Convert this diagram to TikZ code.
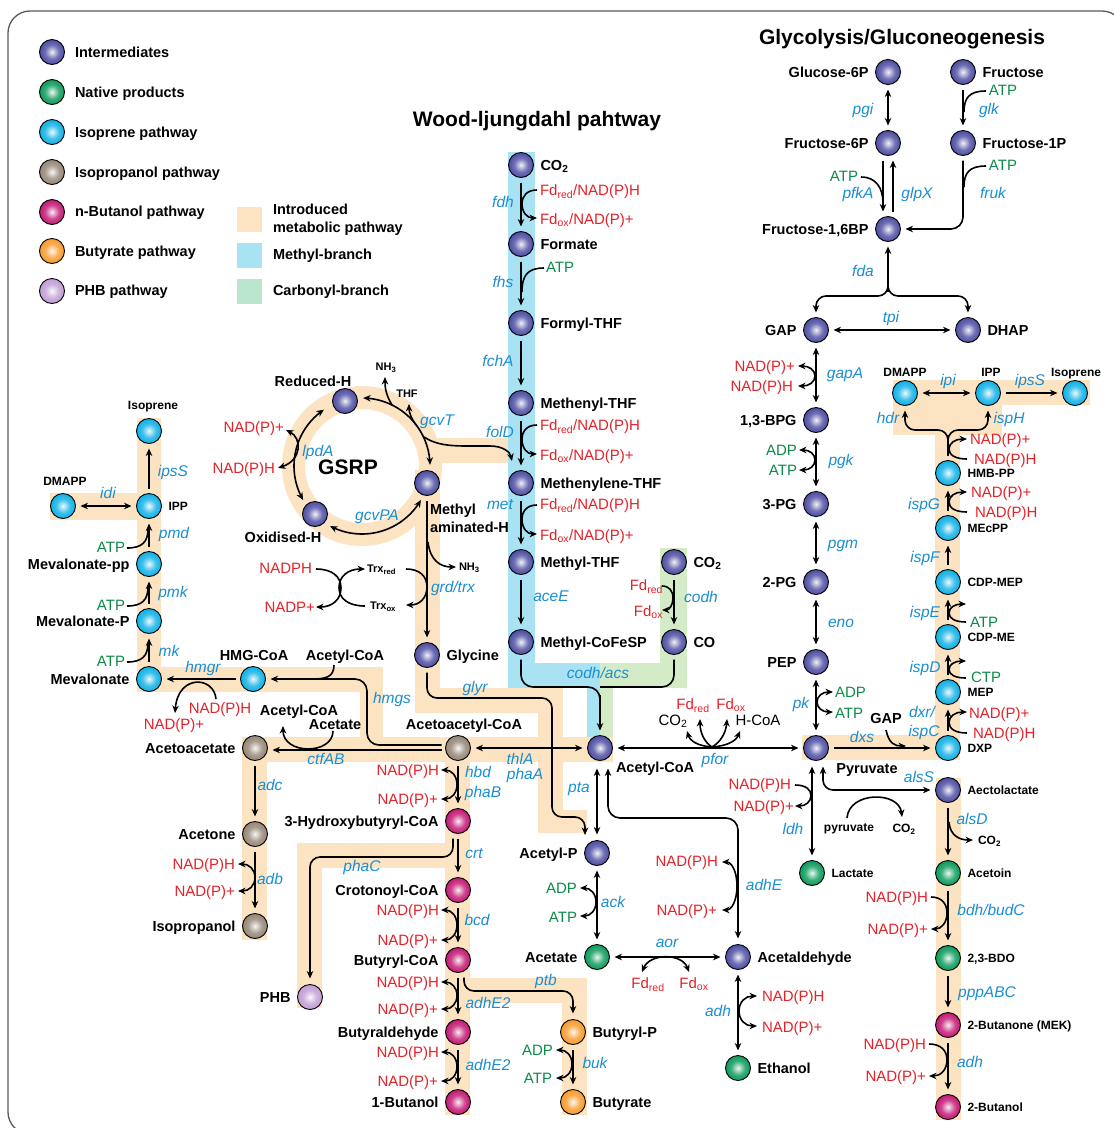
\documentclass[tikz,border=0pt]{standalone}
\usepackage{fontspec}
\setmainfont{Liberation Sans}
\usetikzlibrary{arrows.meta}
\definecolor{cB}{HTML}{5050A4}
\definecolor{cG}{HTML}{0F9C5E}
\definecolor{cC}{HTML}{12B2E6}
\definecolor{cP}{HTML}{978878}
\definecolor{cM}{HTML}{C41C76}
\definecolor{cO}{HTML}{F89C30}
\definecolor{cL}{HTML}{C29FD6}
\definecolor{bandO}{HTML}{FCE3C2}
\definecolor{bandB}{HTML}{A9E3F3}
\definecolor{bandG}{HTML}{D3EBC7}
\definecolor{legG}{HTML}{B9E6CC}
\definecolor{tred}{HTML}{E42229}
\definecolor{tgreen}{HTML}{0C8B48}
\definecolor{tblue}{HTML}{1A8ED2}
\definecolor{frm}{HTML}{5A5A5A}
\newcommand\mksph[2]{\pgfdeclareradialshading{#1}{\pgfpoint{0bp}{0bp}}{color(0bp)=(#2!8!white); color(5bp)=(#2!35!white); color(14bp)=(#2!82!white); color(24bp)=(#2); color(43bp)=(#2!85!black); color(50bp)=(#2!60!black)}}
\mksph{sphB}{cB}\mksph{sphG}{cG}\mksph{sphC}{cC}\mksph{sphP}{cP}\mksph{sphM}{cM}\mksph{sphO}{cO}\mksph{sphL}{cL}
\newcommand\sbs[1]{\textsubscript{#1}}
\newcommand\cof[5][ln]{\draw[#1] (#3,#4) .. controls ({#2+0.35*(#3-#2)},#4) and (#2,{#4+0.2*(#5-#4)}) .. (#2,{(#4+#5)/2}) .. controls (#2,{#5-0.2*(#5-#4)}) and ({#2+0.35*(#3-#2)},#5) .. (#3,#5);}
\begin{document}
\begin{tikzpicture}[x=1pt,y=-1pt,
  every node/.style={inner sep=0pt, outer sep=0pt},
  lab/.style={font=\bfseries\fontsize{14.5}{17}\selectfont, text height=10.4pt, text depth=0pt},
  slab/.style={font=\bfseries\fontsize{12}{14}\selectfont, text height=8.6pt, text depth=0pt},
  tlab/.style={font=\bfseries\fontsize{11}{13}\selectfont, text height=7.9pt, text depth=0pt},
  ttl/.style={font=\bfseries\fontsize{21}{25}\selectfont, text height=15.1pt, text depth=0pt},
  enz/.style={font=\itshape\fontsize{15.5}{18}\selectfont, text=tblue, text height=11.1pt, text depth=0pt},
  cr/.style={font=\fontsize{15}{18}\selectfont, text=tred, text height=10.7pt, text depth=0pt},
  cg/.style={cr, text=tgreen},
  ck/.style={cr, text=black},
  ln/.style={line width=1.6pt},
  arr/.style={ln, -{Stealth[length=7.5pt,width=6.5pt]}},
  rarr/.style={ln, {Stealth[length=7.5pt,width=6.5pt]}-},
  darr/.style={ln, {Stealth[length=7.5pt,width=6.5pt]}-{Stealth[length=7.5pt,width=6.5pt]}},
  conn/.style={shorten >=5pt, shorten <=5pt},
  ball/.style={circle, draw=black, line width=0.9pt, minimum size=25pt, inner sep=0pt, shade},
  ib/.style={ball, shading=sphB}, gb/.style={ball, shading=sphG}, cb/.style={ball, shading=sphC},
  pb/.style={ball, shading=sphP}, mb/.style={ball, shading=sphM}, ob/.style={ball, shading=sphO},
  lb/.style={ball, shading=sphL},
  label distance=7pt]
\useasboundingbox (0,0) rectangle (1114,1128);
\fill[white] (0,0) rectangle (1114,1128);
% ---------- bands ----------
\fill[bandB] (508,152) rectangle (535,688);
\fill[bandB] (508,663) rectangle (600,688);
\fill[bandB] (587,663) rectangle (600,737);
\fill[bandG] (660,548) rectangle (687,688);
\fill[bandG] (600,663) rectangle (687,688);
\fill[bandG] (600,663) rectangle (613,737);
\fill[bandO] (137,418) rectangle (161,692);
\fill[bandO] (50,493) rectangle (137,520);
\fill[bandO] (137,667) rectangle (383,692);
\fill[bandO] (360,667) rectangle (383,762);
\fill[bandO] (242,737) rectangle (613,762);
\fill[bandO] (242,737) rectangle (267,940);
\fill[bandO, even odd rule] (362,466) circle[radius=80pt] (362,466) circle[radius=57pt];
\fill[bandO] (425,438) rectangle (508,463);
\fill[bandO] (415,470) rectangle (440,713);
\fill[bandO] (415,688) rectangle (563,713);
\fill[bandO] (538,688) rectangle (563,833);
\fill[bandO] (538,810) rectangle (587,833);
\fill[bandO] (445,737) rectangle (470,1115);
\fill[bandO] (297,843) rectangle (470,868);
\fill[bandO] (297,843) rectangle (322,1008);
\fill[bandO] (445,978) rectangle (587,1003);
\fill[bandO] (562,978) rectangle (587,1115);
\fill[bandO] (802,735) rectangle (960,760);
\fill[bandO] (935,380) rectangle (960,760);
\fill[bandO] (893,380) rectangle (1002,435);
\fill[bandO] (893,380) rectangle (1090,405);
\fill[bandO] (936,778) rectangle (961,1120);
% frame
\draw[frm, line width=1.3pt, rounded corners=22pt] (8,11) rectangle (1124,1134);
% ---------- legend ----------
\node[ib] (lg1) at (52,52) {};
\node[gb] (lg2) at (52,92) {};
\node[cb] (lg3) at (52,132) {};
\node[pb] (lg4) at (52,172) {};
\node[mb] (lg5) at (52,212) {};
\node[ob] (lg6) at (52,251) {};
\node[lb] (lg7) at (52,291) {};
\node[lab,anchor=west] (lt1) at (75,52) {Intermediates};
\node[lab,anchor=west] (lt2) at (75,92) {Native products};
\node[lab,anchor=west] (lt3) at (75,132) {Isoprene pathway};
\node[lab,anchor=west] (lt4) at (75,172) {Isopropanol pathway};
\node[lab,anchor=west] (lt5) at (75,211) {n-Butanol pathway};
\node[lab,anchor=west] (lt6) at (75,251) {Butyrate pathway};
\node[lab,anchor=west] (lt7) at (75,290) {PHB pathway};
\fill[bandO] (237,207) rectangle (262,232);
\fill[bandB] (237,243) rectangle (262,268);
\fill[legG] (237,279) rectangle (262,304);
\node[lab,anchor=west] (lt8) at (273,209) {Introduced};
\node[lab,anchor=west] (lt9) at (273,227) {metabolic pathway};
\node[lab,anchor=west] (lt10) at (273,254) {Methyl-branch};
\node[lab,anchor=west] (lt11) at (273,290) {Carbonyl-branch};
\node[ttl] (tWL) at (537,119) {Wood-ljungdahl pahtway};
\node[ttl] (tGly) at (902,37) {Glycolysis/Gluconeogenesis};
% ---------- balls ----------
\node[ib, label={[lab]right:CO\sbs{2}}] (co2a) at (521,165) {};
\node[ib, label={[lab]right:Formate}] (formate) at (521,244) {};
\node[ib, label={[lab]right:Formyl-THF}] (formyl) at (521,323) {};
\node[ib, label={[lab]right:Methenyl-THF}] (methenyl) at (521,403) {};
\node[ib, label={[lab]right:Methenylene-THF}] (methylene) at (521,483) {};
\node[ib, label={[lab]right:Methyl-THF}] (methylthf) at (521,562) {};
\node[ib, label={[lab]right:Methyl-CoFeSP}] (cofesp) at (521,642) {};
\node[ib, label={[lab]right:CO\sbs{2}}] (co2b) at (674,562) {};
\node[ib, label={[lab]right:CO}] (co) at (674,642) {};
\node[ib] (accoa) at (600,748) {};
\node[ib] (redh) at (345,401) {};
\node[ib] (mah) at (427,483) {};
\node[ib] (oxh) at (315,514) {};
\node[ib, label={[lab]right:Glycine}] (gly) at (427,655) {};
\node[cb] (iso1) at (149,431) {};
\node[cb, label={[slab]right:IPP}] (ipp1) at (149,506) {};
\node[cb] (dmapp1) at (63,506) {};
\node[cb, label={[lab]left:Mevalonate-pp}] (mevpp) at (149,564) {};
\node[cb, label={[lab]left:Mevalonate-P}] (mevp) at (149,621) {};
\node[cb, label={[lab]left:Mevalonate}] (mev) at (149,679) {};
\node[cb] (hmg) at (253,679) {};
\node[pb] (aacoa) at (458,748) {};
\node[pb, label={[lab]left:Acetoacetate}] (aac) at (255,748) {};
\node[pb, label={[lab]left:Acetone}] (acetone) at (255,834) {};
\node[pb, label={[lab]left:Isopropanol}] (ipa) at (255,926) {};
\node[mb, label={[lab]left:3-Hydroxybutyryl-CoA}] (hbcoa) at (458,821) {};
\node[mb, label={[lab]left:Crotonoyl-CoA}] (crcoa) at (458,890) {};
\node[mb, label={[lab]left:Butyryl-CoA}] (bucoa) at (458,960) {};
\node[mb, label={[lab]left:Butyraldehyde}] (bual) at (458,1032) {};
\node[mb, label={[lab]left:1-Butanol}] (buol) at (458,1102) {};
\node[lb, label={[lab]left:PHB}] (phb) at (310,997) {};
\node[ob, label={[lab]right:Butyryl-P}] (bup) at (573,1032) {};
\node[ob, label={[lab]right:Butyrate}] (but) at (573,1102) {};
\node[ib, label={[lab]left:Acetyl-P}] (acp) at (597,853) {};
\node[gb, label={[lab]left:Acetate}] (acet) at (597,957) {};
\node[ib, label={[lab]right:Acetaldehyde}] (acald) at (738,957) {};
\node[gb, label={[lab]right:Ethanol}] (etoh) at (738,1068) {};
\node[ib, label={[lab]left:Glucose-6P}] (g6p) at (888,72) {};
\node[ib, label={[lab]right:Fructose}] (fru) at (963,72) {};
\node[ib, label={[lab]left:Fructose-6P}] (f6p) at (888,143) {};
\node[ib, label={[lab]right:Fructose-1P}] (f1p) at (963,143) {};
\node[ib, label={[lab]left:{Fructose-1,6BP}}] (fbp) at (888,229) {};
\node[ib, label={[lab]left:GAP}] (gap) at (816,330) {};
\node[ib, label={[lab]right:DHAP}] (dhap) at (968,330) {};
\node[ib, label={[lab]left:{1,3-BPG}}] (bpg) at (816,420) {};
\node[ib, label={[lab]left:3-PG}] (pg3) at (816,504) {};
\node[ib, label={[lab]left:2-PG}] (pg2) at (816,582) {};
\node[ib, label={[lab]left:PEP}] (pep) at (816,662) {};
\node[ib] (pyr) at (816,748) {};
\node[gb, label distance=10pt, label={[slab]right:Lactate}] (lac) at (812,873) {};
\node[cb, label={[slab]right:DXP}] (dxp) at (948,748) {};
\node[cb, label={[slab]right:MEP}] (mep) at (948,692) {};
\node[cb, label={[slab]right:CDP-ME}] (cdpme) at (948,637) {};
\node[cb, label={[slab]right:CDP-MEP}] (cdpmep) at (948,582) {};
\node[cb, label={[slab]right:MEcPP}] (mecpp) at (948,528) {};
\node[cb, label={[slab]right:HMB-PP}] (hmbpp) at (948,473) {};
\node[cb] (dmapp2) at (905,393) {};
\node[cb] (ipp2) at (988,393) {};
\node[cb] (iso2) at (1075,393) {};
\node[ib, label={[slab]right:Aectolactate}] (alac) at (948,790) {};
\node[gb, label={[slab]right:Acetoin}] (acetoin) at (948,873) {};
\node[gb, label={[slab]right:{2,3-BDO}}] (bdo) at (948,958) {};
\node[mb, label={[slab]right:2-Butanone (MEK)}] (mek) at (948,1025) {};
\node[mb, label={[slab]right:2-Butanol}] (buol2) at (948,1107) {};
% ---------- other black labels ----------
\node[lab,anchor=west] (taccoa) at (616,767) {Acetyl-CoA};
\node[lab] (tredh) at (313,381) {Reduced-H};
\node[lab] (toxh) at (283,537) {Oxidised-H};
\node[lab,anchor=west] (tmah1) at (430,509) {Methyl};
\node[lab,anchor=west] (tmah2) at (430,527) {aminated-H};
\node[font=\bfseries\fontsize{21}{24}\selectfont, text height=15pt, text depth=0pt] (gsrp) at (348,467) {GSRP};
\node[tlab] (nh3a) at (386,367) {NH\sbs{3}};
\node[tlab] (thf) at (407,394) {THF};
\node[tlab,anchor=west] (nh3b) at (459,567) {NH\sbs{3}};
\node[tlab,anchor=west] (trxr) at (367,569) {Trx\sbs{red}};
\node[tlab,anchor=west] (trxo) at (370,606) {Trx\sbs{ox}};
\node[slab] (tiso1) at (153,405) {Isoprene};
\node[slab] (tdm1) at (65,481) {DMAPP};
\node[lab] (thmg) at (254,655) {HMG-CoA};
\node[lab] (tac1) at (345,655) {Acetyl-CoA};
\node[lab] (tac2) at (299,710) {Acetyl-CoA};
\node[lab] (tace) at (335,724) {Acetate};
\node[lab] (taacoa) at (464,724) {Acetoacetyl-CoA};
\node[lab] (tpyr) at (867,768) {Pyruvate};
\node[lab] (tgap2) at (886,718) {GAP};
\node[slab] (tpyr2) at (849,827) {pyruvate};
\node[slab] (tco2c) at (904,828) {CO\sbs{2}};
\node[slab,anchor=west] (tco2d) at (978,840) {CO\sbs{2}};
\node[slab] (tdm2) at (905,372) {DMAPP};
\node[slab] (tipp2) at (991,372) {IPP};
\node[slab] (tiso2) at (1076,372) {Isoprene};
% ---------- cofactors ----------
\node[cr,anchor=west] (c1) at (540,190) {Fd\sbs{red}/NAD(P)H};
\node[cr,anchor=west] (c2) at (540,219) {Fd\sbs{ox}/NAD(P)+};
\node[cg,anchor=west] (c3) at (546,267) {ATP};
\node[cr,anchor=west] (c4) at (540,425) {Fd\sbs{red}/NAD(P)H};
\node[cr,anchor=west] (c5) at (540,455) {Fd\sbs{ox}/NAD(P)+};
\node[cr,anchor=west] (c6) at (540,504) {Fd\sbs{red}/NAD(P)H};
\node[cr,anchor=west] (c7) at (540,535) {Fd\sbs{ox}/NAD(P)+};
\node[cr,anchor=east] (c8) at (663,585) {Fd\sbs{red}};
\node[cr,anchor=east] (c9) at (663,611) {Fd\sbs{ox}};
\node[ck] (c10) at (673,720) {CO\sbs{2}};
\node[cr] (c11) at (693,704) {Fd\sbs{red}};
\node[cr] (c12) at (731,704) {Fd\sbs{ox}};
\node[ck] (c13) at (758,720) {H-CoA};
\node[cr,anchor=east] (cg1) at (284,427) {NAD(P)+};
\node[cr,anchor=east] (cg2) at (275,468) {NAD(P)H};
\node[cr,anchor=east] (ct1) at (312,568) {NADPH};
\node[cr,anchor=east] (ct2) at (315,607) {NADP+};
\node[cg] (c14) at (111,547) {ATP};
\node[cg] (c15) at (111,605) {ATP};
\node[cg] (c16) at (111,661) {ATP};
\node[cr] (c17) at (220,708) {NAD(P)H};
\node[cr] (c18) at (174,724) {NAD(P)+};
\node[cr,anchor=east] (c19) at (235,864) {NAD(P)H};
\node[cr,anchor=east] (c20) at (235,891) {NAD(P)+};
\node[cr,anchor=east] (c21) at (439,770) {NAD(P)H};
\node[cr,anchor=east] (c22) at (438,799) {NAD(P)+};
\node[cr,anchor=east] (c23) at (439,910) {NAD(P)H};
\node[cr,anchor=east] (c24) at (438,940) {NAD(P)+};
\node[cr,anchor=east] (c25) at (439,982) {NAD(P)H};
\node[cr,anchor=east] (c26) at (438,1009) {NAD(P)+};
\node[cr,anchor=east] (c27) at (439,1052) {NAD(P)H};
\node[cr,anchor=east] (c28) at (438,1081) {NAD(P)+};
\node[cg,anchor=east] (c29) at (553,1050) {ADP};
\node[cg,anchor=east] (c30) at (552,1078) {ATP};
\node[cg,anchor=east] (c31) at (577,888) {ADP};
\node[cg,anchor=east] (c32) at (577,917) {ATP};
\node[cr] (c33) at (648,983) {Fd\sbs{red}};
\node[cr] (c34) at (694,983) {Fd\sbs{ox}};
\node[cr,anchor=east] (c35) at (718,861) {NAD(P)H};
\node[cr,anchor=east] (c36) at (717,910) {NAD(P)+};
\node[cr,anchor=west] (c37) at (762,996) {NAD(P)H};
\node[cr,anchor=west] (c38) at (762,1027) {NAD(P)+};
\node[cg] (c39) at (1003,90) {ATP};
\node[cg] (c40) at (1003,165) {ATP};
\node[cg] (c41) at (844,176) {ATP};
\node[cr,anchor=east] (c42) at (795,366) {NAD(P)+};
\node[cr,anchor=east] (c43) at (793,386) {NAD(P)H};
\node[cg,anchor=east] (c44) at (797,450) {ADP};
\node[cg,anchor=east] (c45) at (797,470) {ATP};
\node[cg,anchor=west] (c46) at (835,692) {ADP};
\node[cg,anchor=west] (c47) at (835,713) {ATP};
\node[cr,anchor=east] (c48) at (791,784) {NAD(P)H};
\node[cr,anchor=east] (c49) at (794,806) {NAD(P)+};
\node[cr,anchor=east] (c50) at (928,897) {NAD(P)H};
\node[cr,anchor=east] (c51) at (928,929) {NAD(P)+};
\node[cr,anchor=east] (c52) at (926,1044) {NAD(P)H};
\node[cr,anchor=east] (c53) at (926,1076) {NAD(P)+};
\node[cr,anchor=west] (c54) at (969,713) {NAD(P)+};
\node[cr,anchor=west] (c55) at (973,733) {NAD(P)H};
\node[cg,anchor=west] (c56) at (971,677) {CTP};
\node[cg,anchor=west] (c57) at (970,622) {ATP};
\node[cr,anchor=west] (c58) at (971,492) {NAD(P)+};
\node[cr,anchor=west] (c59) at (975,512) {NAD(P)H};
\node[cr,anchor=west] (c60) at (970,439) {NAD(P)+};
\node[cr,anchor=west] (c61) at (974,459) {NAD(P)H};
% ---------- enzymes ----------
\node[enz] (e1) at (503,202) {fdh};
\node[enz] (e2) at (503,282) {fhs};
\node[enz] (e3) at (498,361) {fchA};
\node[enz] (e4) at (500,432) {folD};
\node[enz] (e5) at (500,504) {met};
\node[enz] (e6) at (551,596) {aceE};
\node[enz] (e7) at (701,597) {codh};
\node[enz] (e8) at (598,673) {codh/acs};
\node[enz] (e9) at (437,420) {gcvT};
\node[enz] (e10) at (318,451) {lpdA};
\node[enz] (e11) at (377,515) {gcvPA};
\node[enz] (e12) at (453,587) {grd/trx};
\node[enz] (e13) at (475,687) {glyr};
\node[enz] (e14) at (392,698) {hmgs};
\node[enz] (e15) at (203,667) {hmgr};
\node[enz] (e16) at (169,651) {mk};
\node[enz] (e17) at (173,592) {pmk};
\node[enz] (e18) at (174,533) {pmd};
\node[enz] (e19) at (173,471) {ipsS};
\node[enz] (e20) at (108,493) {idi};
\node[enz] (e21) at (326,759) {ctfAB};
\node[enz] (e22) at (270,785) {adc};
\node[enz] (e23) at (270,879) {adb};
\node[enz] (e24) at (520,759) {thlA};
\node[enz] (e25) at (525,774) {phaA};
\node[enz] (e26) at (478,772) {hbd};
\node[enz] (e27) at (483,792) {phaB};
\node[enz] (e28) at (474,853) {crt};
\node[enz] (e29) at (362,866) {phaC};
\node[enz] (e30) at (477,920) {bcd};
\node[enz] (e31) at (488,1003) {adhE2};
\node[enz] (e32) at (488,1065) {adhE2};
\node[enz] (e33) at (546,980) {ptb};
\node[enz] (e34) at (595,1063) {buk};
\node[enz] (e35) at (579,787) {pta};
\node[enz] (e36) at (613,902) {ack};
\node[enz] (e37) at (667,942) {aor};
\node[enz] (e38) at (718,1011) {adh};
\node[enz] (e39) at (764,885) {adhE};
\node[enz] (e40) at (715,759) {pfor};
\node[enz] (e41) at (863,109) {pgi};
\node[enz] (e42) at (989,109) {glk};
\node[enz] (e43) at (858,193) {pfkA};
\node[enz] (e44) at (917,193) {glpX};
\node[enz] (e45) at (993,193) {fruk};
\node[enz] (e46) at (863,271) {fda};
\node[enz] (e47) at (891,317) {tpi};
\node[enz] (e48) at (845,373) {gapA};
\node[enz] (e49) at (841,460) {pgk};
\node[enz] (e50) at (843,543) {pgm};
\node[enz] (e51) at (841,622) {eno};
\node[enz] (e52) at (801,703) {pk};
\node[enz] (e53) at (862,737) {dxs};
\node[enz] (e54) at (793,829) {ldh};
\node[enz] (e55) at (919,777) {alsS};
\node[enz] (e56) at (972,819) {alsD};
\node[enz] (e57) at (991,910) {bdh/budC};
\node[enz] (e58) at (987,992) {pppABC};
\node[enz] (e59) at (970,1062) {adh};
\node[enz] (e60) at (922,712) {dxr/};
\node[enz] (e61) at (924,731) {ispC};
\node[enz] (e62) at (925,667) {ispD};
\node[enz] (e63) at (925,612) {ispE};
\node[enz] (e64) at (925,557) {ispF};
\node[enz] (e65) at (924,504) {ispG};
\node[enz] (e66) at (888,418) {hdr};
\node[enz] (e67) at (1009,418) {ispH};
\node[enz] (e68) at (948,380) {ipi};
\node[enz] (e69) at (1030,380) {ipsS};
% ---------- main connectors ----------
\draw[arr,conn] (co2a) -- (formate);
\draw[arr,conn] (formate) -- (formyl);
\draw[arr,conn] (formyl) -- (methenyl);
\draw[arr,conn] (methenyl) -- (methylene);
\draw[arr,conn] (methylene) -- (methylthf);
\draw[arr,conn] (methylthf) -- (cofesp);
\draw[arr,conn] (co2b) -- (co);
\draw[ln, rounded corners=12pt, shorten <=5pt] (cofesp.south) -- (521,687) -- (600,687) -- (600,700);
\draw[ln, rounded corners=12pt, shorten <=5pt] (co.south) -- (674,687) -- (600,687);
\draw[arr, shorten >=5pt] (600,695) -- (accoa.north);
\draw[darr,conn] (accoa) -- (pyr);
\draw[darr, shorten <=8pt, shorten >=6pt] (accoa.south -| acp) -- (acp.north);
\draw[arr, rounded corners=10pt, shorten <=5pt, shorten >=6pt] (gly.south) -- (427,698) -- (552,698) -- (552,817) -- (585,817) -- (585,841);
\draw[darr, rounded corners=12pt, shorten <=8pt, shorten >=6pt] ([xshift=8pt]accoa.south) -- (608,818) -- (738,818) -- (acald.north);
\draw[darr,conn] (acp) -- (acet);
\draw[darr,conn] (acet) -- (acald);
\draw[darr,conn] (acald) -- (etoh);
\draw[arr,conn] (mah) -- (gly);
\draw[arr,conn] (mev) -- (mevp);
\draw[arr,conn] (mevp) -- (mevpp);
\draw[arr,conn] (mevpp) -- (ipp1);
\draw[arr,conn] (ipp1) -- (iso1);
\draw[darr,conn] (dmapp1) -- (ipp1);
\draw[arr,conn] (hmg) -- (mev);
\draw[arr, rounded corners=12pt, shorten <=4pt, shorten >=5pt] ([yshift=3pt]aacoa.west) -- (367,745) -- (367,679) -- (hmg.east);
\draw[arr, shorten <=4pt, shorten >=5pt] ([yshift=-2pt]aacoa.west) -- ([yshift=-2pt]aac.east);
\draw[arr,conn] (aac) -- (acetone);
\draw[arr,conn] (acetone) -- (ipa);
\draw[darr,conn] (aacoa) -- (accoa);
\draw[arr,conn] (aacoa) -- (hbcoa);
\draw[arr,conn] (hbcoa) -- (crcoa);
\draw[arr,conn] (crcoa) -- (bucoa);
\draw[arr,conn] (bucoa) -- (bual);
\draw[arr,conn] (bual) -- (buol);
\draw[arr, rounded corners=10pt, shorten <=5pt, shorten >=6pt] ([xshift=-5pt]hbcoa.south) -- (453,857) -- (310,857) -- (phb.north);
\draw[arr, rounded corners=10pt, shorten <=5pt, shorten >=6pt] ([xshift=6pt]bucoa.south) -- (464,991) -- (573,991) -- (bup.north);
\draw[arr,conn] (bup) -- (but);
\draw[darr,conn] (g6p) -- (f6p);
\draw[arr,conn] (fru) -- (f1p);
\draw[arr, shorten <=5pt, shorten >=5pt] ([xshift=-5pt]f6p.south) -- ([xshift=-5pt]fbp.north);
\draw[arr, shorten <=5pt, shorten >=5pt] ([xshift=5pt]fbp.north) -- ([xshift=5pt]f6p.south);
\draw[arr, rounded corners=12pt, shorten <=5pt, shorten >=5pt] (f1p.south) -- (963,229) -- (fbp.east);
\draw[arr, shorten >=5pt] (888,292) -- (fbp.south);
\draw[arr, rounded corners=10pt, shorten >=5pt] (888,285) -- (888,296) -- (816,296) -- (gap.north);
\draw[arr, rounded corners=10pt, shorten >=5pt] (888,285) -- (888,296) -- (968,296) -- (dhap.north);
\draw[darr,conn] (gap) -- (dhap);
\draw[darr,conn] (gap) -- (bpg);
\draw[darr,conn] (bpg) -- (pg3);
\draw[darr,conn] (pg3) -- (pg2);
\draw[darr,conn] (pg2) -- (pep);
\draw[darr,conn] (pep) -- (pyr);
\draw[arr,conn] (pyr) -- (dxp);
\draw[darr, shorten <=6pt, shorten >=5pt] ([xshift=-4pt]pyr.south) -- (lac.north);
\draw[darr, rounded corners=10pt, shorten <=6pt, shorten >=5pt] ([xshift=7pt]pyr.south) -- (823,790) -- (alac.west);
\draw[arr,conn] (alac) -- (acetoin);
\draw[arr,conn] (acetoin) -- (bdo);
\draw[arr,conn] (bdo) -- (mek);
\draw[arr,conn] (mek) -- (buol2);
\draw[arr,conn] (dxp) -- (mep);
\draw[arr,conn] (mep) -- (cdpme);
\draw[arr,conn] (cdpme) -- (cdpmep);
\draw[arr,conn] (cdpmep) -- (mecpp);
\draw[arr,conn] (mecpp) -- (hmbpp);
\draw[arr, rounded corners=10pt, shorten <=5pt, shorten >=5pt] (hmbpp.north) -- (948,430) -- (905,430) -- (dmapp2.south);
\draw[arr, rounded corners=10pt, shorten <=5pt, shorten >=5pt] (hmbpp.north) -- (948,430) -- (988,430) -- (ipp2.south);
\draw[darr,conn] (dmapp2) -- (ipp2);
\draw[arr,conn] (ipp2) -- (iso2);
% GSRP arcs
\draw[darr] plot[domain=150:236, samples=40, smooth] ({362+68*cos(\x)},{466+68*sin(\x)});
\draw[darr] plot[domain=-89:-1, samples=40, smooth] ({362+68*cos(\x)},{466+68*sin(\x)});
\draw[darr] plot[domain=30:118, samples=40, smooth] ({362+68*cos(\x)},{466+68*sin(\x)});
\draw[arr] (392,405) .. controls (386,395) and (385,388) .. (385,377);
\draw[arr] (416,425) .. controls (411,418) and (409,412) .. (409,404);
\draw[arr] (424,437) .. controls (436,445) and (450,446) .. (468,446) -- (490,446) .. controls (503,446) and (510,452) .. (512,461);
\draw[darr] (286,430) .. controls (302,438) and (302,460) .. (278,468);
% ---------- cofactor curves ----------
\cof[arr]{522}{537}{190}{218}
\draw[ln] (544,268) .. controls (527,268) and (522,276) .. (522,292);
\cof[arr]{522}{537}{425}{454}
\cof[arr]{522}{537}{505}{534}
\cof[arr]{673}{662}{586}{610}
\draw[arr] (712,747) .. controls (698,746) and (690,741) .. (687,731);
\draw[arr] (712,747) .. controls (704,742) and (700,732) .. (700,719);
\draw[arr] (712,747) .. controls (721,742) and (726,732) .. (727,719);
\draw[arr] (712,747) .. controls (727,746) and (736,741) .. (740,731);
\cof[arr]{341}{316}{569}{607}
\cof[rarr]{339}{365}{569}{606}
\cof[arr]{427}{406}{569}{605}
\draw[arr] (428,542) .. controls (430,560) and (440,567) .. (456,567);
\draw[ln] (127,662) .. controls (142,662) and (148,656) .. (148,643);
\draw[ln] (127,606) .. controls (142,606) and (148,600) .. (148,587);
\draw[ln] (127,548) .. controls (142,548) and (148,542) .. (148,529);
\draw[arr] (216,699) .. controls (214,676) and (178,674) .. (175,713);
\draw[arr] (333,731) .. controls (333,755) and (283,755) .. (283,726);
\draw[ln] (334,665) .. controls (334,677) and (326,679) .. (312,679);
\cof[darr]{255}{238}{864}{891}
\cof[darr]{457}{441}{770}{799}
\cof[darr]{457}{441}{910}{940}
\cof[darr]{457}{441}{982}{1009}
\cof[darr]{457}{441}{1052}{1081}
\cof[darr]{572}{556}{1050}{1078}
\cof[darr]{596}{580}{888}{916}
\draw[darr] (642,972) .. controls (650,953) and (682,953) .. (689,972);
\cof[darr]{737}{722}{862}{910}
\cof[darr]{739}{757}{996}{1026}
\draw[ln] (986,91) .. controls (969,91) and (964,98) .. (964,112);
\draw[ln] (986,166) .. controls (969,166) and (964,173) .. (964,187);
\draw[ln] (861,177) .. controls (876,177) and (883,188) .. (883,203);
\cof[darr]{815}{798}{366}{386}
\cof[darr]{815}{799}{450}{470}
\cof[darr]{817}{833}{692}{712}
\cof[arr]{811}{795}{785}{806}
\draw[arr] (886,730) .. controls (889,744) and (895,746) .. (906,746);
\draw[arr] (847,818) .. controls (849,791) and (899,791) .. (902,817);
\draw[arr] (949,822) .. controls (950,836) and (960,840) .. (973,840);
\cof[arr]{947}{931}{897}{929}
\cof[arr]{947}{929}{1044}{1076}
\cof[rarr]{949}{967}{712}{733}
\cof[rarr]{949}{966}{661}{678}
\cof[rarr]{949}{966}{604}{622}
\cof[rarr]{949}{967}{492}{512}
\cof[rarr]{949}{967}{439}{459}
\end{tikzpicture}
\end{document}
